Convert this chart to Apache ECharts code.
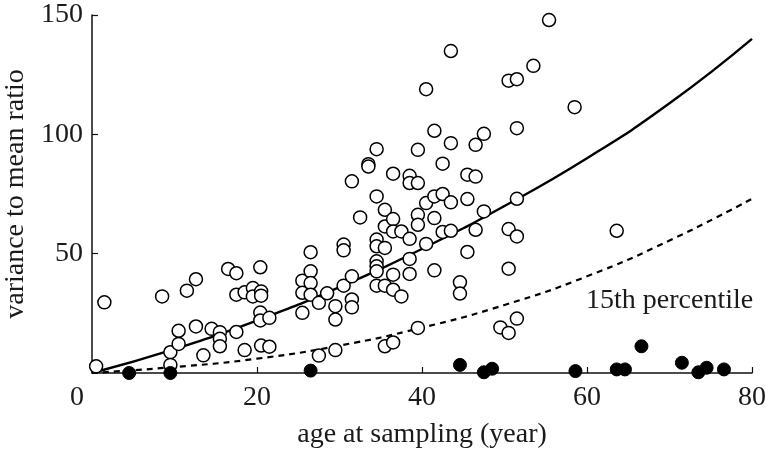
<!DOCTYPE html>
<html>
<head>
<meta charset="utf-8">
<script src="https://cdn.jsdelivr.net/npm/echarts@6/dist/echarts.min.js"></script>
<style>html,body{margin:0;padding:0;background:#fff}#c{width:768px;height:449px}</style>
</head>
<body>
<div id="c"></div>
<script>
// open circles: [age, variance-to-mean ratio]
var openPoints = [
  [0.5,2.8],[1.5,29.6],[8.5,32.1],[9.5,8.7],[9.5,3.4],[10.5,17.7],[10.5,12.2],[11.5,34.5],
  [12.6,39.3],[12.6,19.5],[13.5,7.4],[14.5,18.5],[15.5,17.1],[15.5,14.3],[15.5,11.2],[16.5,43.6],
  [17.5,41.8],[17.5,32.8],[17.5,17.2],[18.5,33.8],[18.5,9.6],[19.5,35.6],[19.5,32.1],[20.4,44.3],
  [20.5,34.2],[20.5,32.4],[20.4,25.3],[20.4,22.0],[21.5,23.1],[20.5,11.5],[21.5,11.0],[25.5,38.7],
  [25.5,33.6],[25.5,25.2],[26.5,50.6],[26.5,42.6],[26.5,37.7],[26.5,32.8],[27.5,29.4],[27.5,7.3],
  [28.5,33.4],[29.5,28.0],[29.5,22.4],[29.5,9.6],[30.5,53.8],[30.5,51.4],[30.5,36.6],[31.5,80.3],
  [31.5,40.5],[31.5,30.8],[31.5,27.5],[32.5,65.2],[33.5,87.5],[33.5,86.5],[34.5,93.8],[34.5,74.0],
  [34.5,55.9],[34.5,53.1],[34.5,46.8],[34.5,44.7],[34.5,42.6],[34.5,36.6],[35.5,68.4],[35.5,61.4],
  [35.5,52.4],[35.5,36.6],[35.5,11.2],[36.5,83.5],[36.5,64.5],[36.5,59.3],[36.5,41.2],[36.5,34.9],
  [36.5,12.8],[37.5,59.3],[37.5,32.1],[38.5,82.6],[38.5,79.6],[39.5,79.6],[38.5,56.2],[38.5,47.8],
  [38.5,41.5],[39.5,93.5],[39.5,66.3],[39.5,62.1],[39.5,18.9],[40.5,118.9],[40.5,71.2],[40.5,54.1],
  [41.5,101.5],[41.5,74.0],[41.5,64.9],[41.5,43.0],[42.5,87.7],[42.5,75.0],[42.5,59.1],[43.5,134.9],
  [43.5,96.3],[43.5,71.5],[43.5,59.6],[44.6,38.0],[44.6,33.3],[45.5,83.1],[45.5,72.9],[45.5,50.7],
  [46.5,95.6],[46.5,82.3],[46.5,60.0],[47.5,100.2],[47.5,67.7],[49.5,19.1],[50.5,122.5],[50.5,60.3],
  [50.5,43.7],[50.5,16.8],[51.5,123.1],[51.5,102.6],[51.5,73.0],[51.5,57.2],[51.5,22.8],[53.5,128.7],
  [55.4,147.9],[58.5,111.4],[63.6,59.6]
];
// filled circles
var filledPoints = [
  [4.5,0],[9.5,0],[26.5,1.0],[44.6,3.4],[47.5,0.3],[48.5,1.8],[58.6,0.8],[63.6,1.5],
  [64.6,1.5],[66.6,11.2],[71.5,4.3],[73.5,0.3],[74.5,2.2],[76.6,1.5]
];
// fitted curve (solid) and 15th percentile (dashed), read at these ages
var curveX = [0, 10, 20, 30, 40, 50, 60, 70, 80];
var meanCurve = [0, 10, 22, 36, 52, 70, 90, 113, 140];
var pct15Curve = [0, 2.5, 6, 11.5, 19, 28.5, 40.5, 55.5, 73];
var xTicks = [0, 20, 40, 60, 80];
var yTicks = [0, 50, 100, 150];

function pairs(xs, ys){ return xs.map(function(x,i){ return [x, ys[i]]; }); }

var FONT = 'Liberation Serif';
var chart = echarts.init(document.getElementById('c'));
chart.setOption({
  animation: false,
  backgroundColor: '#fff',
  grid: { left: 92, right: 16, top: 15, bottom: 76, containLabel: false, outerBoundsMode: 'none' },
  xAxis: {
    type: 'value', min: xTicks[0], max: xTicks[xTicks.length-1], interval: 20,
    name: 'age at sampling (year)', nameLocation: 'middle', nameGap: 48,
    nameTextStyle: { fontFamily: FONT, fontSize: 28, color: '#1a1a1a' },
    axisLine: { lineStyle: { color: '#111', width: 1.5 } },
    axisTick: { inside: true, length: 6, lineStyle: { color: '#111', width: 1.2 } },
    axisLabel: { showMinLabel: false, fontFamily: FONT, fontSize: 28, color: '#1a1a1a', margin: 11 },
    splitLine: { show: false }
  },
  yAxis: {
    type: 'value', min: yTicks[0], max: yTicks[yTicks.length-1], interval: 50,
    name: 'variance to mean ratio', nameLocation: 'middle', nameGap: 53,
    nameTextStyle: { fontFamily: FONT, fontSize: 28, color: '#1a1a1a' },
    axisLine: { show: true, lineStyle: { color: '#111', width: 1.5 } },
    axisTick: { show: true, inside: true, length: 6, lineStyle: { color: '#111', width: 1.2 } },
    axisLabel: { showMinLabel: false, fontFamily: FONT, fontSize: 28, color: '#1a1a1a', margin: 9 },
    splitLine: { show: false }
  },
  graphic: [
    { type: 'text', left: 70, top: 384, style: { text: '0', font: '28px "Liberation Serif"', fill: '#1a1a1a' } },
    { type: 'text', left: 586, top: 287, style: { text: '15th percentile', font: '28px "Liberation Serif"', fill: '#1a1a1a' } }
  ],
  series: [
    { type: 'line', data: pairs(curveX, meanCurve), smooth: true, showSymbol: false, z: 2,
      lineStyle: { color: '#000', width: 2.4 } },
    { type: 'line', data: pairs(curveX, pct15Curve), smooth: true, showSymbol: false, z: 2,
      lineStyle: { color: '#000', width: 2.2, type: [6, 5] } },
    { type: 'scatter', data: openPoints, symbol: 'circle', symbolSize: 13, z: 5,
      itemStyle: { color: '#fff', borderColor: '#000', borderWidth: 1.5, opacity: 1 } },
    { type: 'scatter', data: filledPoints, symbol: 'circle', symbolSize: 13, z: 6,
      itemStyle: { color: '#000', borderColor: '#000', borderWidth: 1, opacity: 1 } }
  ]
});
</script>
</body>
</html>
